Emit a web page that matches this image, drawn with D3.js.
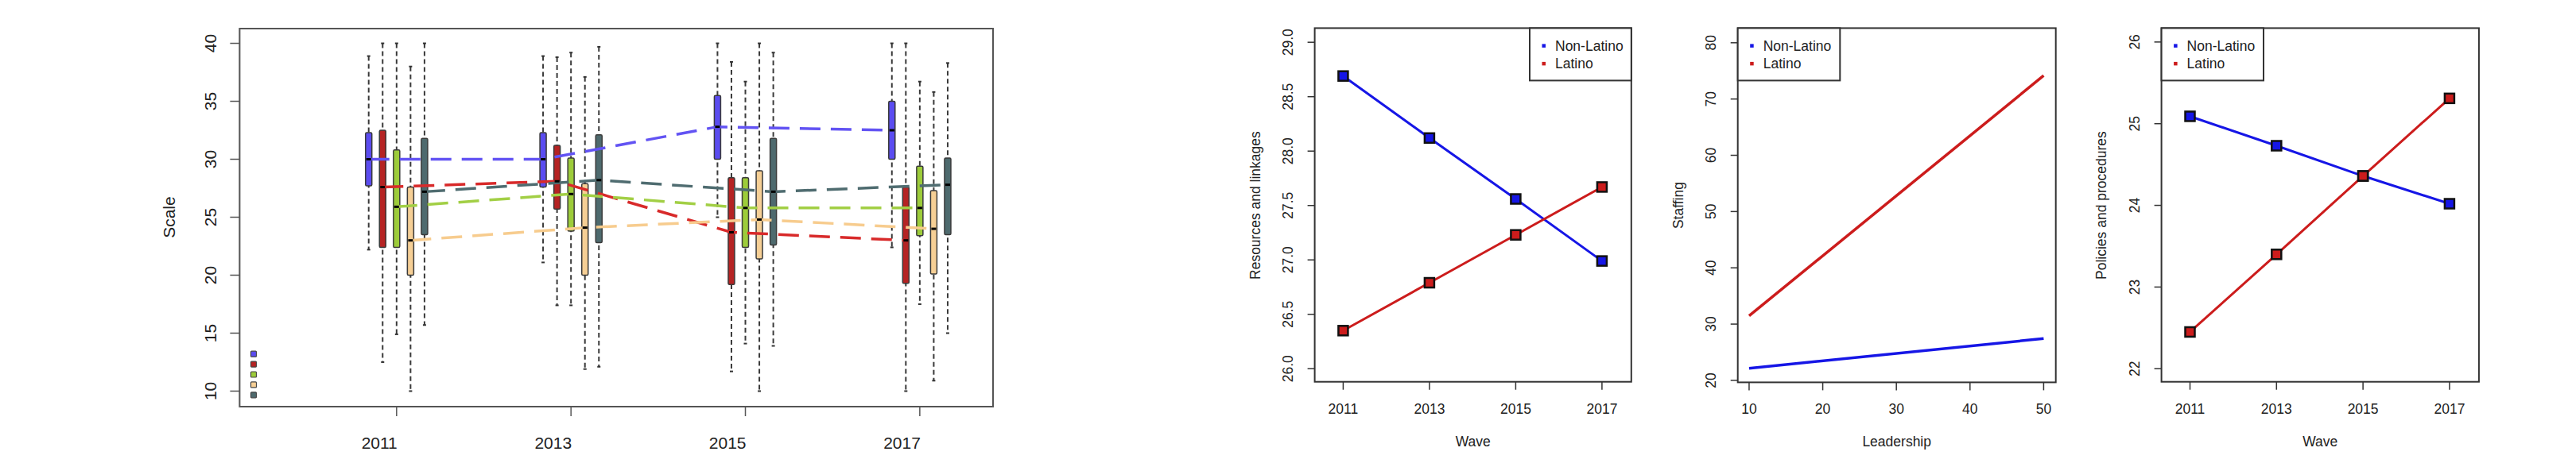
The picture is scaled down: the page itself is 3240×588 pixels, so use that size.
<!DOCTYPE html>
<html>
<head>
<meta charset="utf-8">
<script src="https://cdn.jsdelivr.net/npm/d3@7"></script>
<style>
  body { margin: 0; background: #fff; }
  text { font-family: "Liberation Sans", Arial, sans-serif; fill: #222; }
</style>
</head>
<body>
<div class="wrapper"></div>
<script>
const WIDTH = 3240
const HEIGHT = 588

// ---- data ----
var years = [2011, 2013, 2015, 2017]
var scaleTicks = [10, 15, 20, 25, 30, 35, 40]

// box stats per year: [whisker low, q1, median, q3, whisker high]
var boxBlue  = [[22.2, 27.7, 30.0, 32.3, 38.9], [21.1, 27.6, 30.0, 32.3, 38.9], [25.0, 30.0, 32.8, 35.5, 40.0], [22.4, 30.0, 32.5, 35.0, 40.0]]
var boxRed   = [[12.5, 22.4, 27.6, 32.5, 40.0], [17.4, 25.7, 28.1, 31.2, 38.8], [11.7, 19.2, 23.7, 28.4, 38.4], [10.0, 19.3, 23.0, 27.6, 40.0]]
var boxGreen = [[14.9, 22.4, 25.9, 30.8, 40.0], [17.4, 23.8, 27.0, 30.1, 39.2], [14.1, 22.4, 25.8, 28.4, 36.7], [17.5, 23.4, 25.8, 29.4, 36.7]]
var boxTan   = [[10.0, 20.0, 23.0, 27.6, 38.0], [11.9, 20.0, 24.1, 27.9, 37.1], [10.0, 21.4, 24.8, 29.0, 40.0], [10.9, 20.1, 24.0, 27.3, 35.8]]
var boxGrey  = [[15.7, 23.5, 27.2, 31.8, 40.0], [12.1, 22.8, 28.2, 32.1, 39.7], [13.9, 22.6, 27.2, 31.8, 39.2], [15.0, 23.5, 27.8, 30.1, 38.3]]
var boxGroups = [boxBlue, boxRed, boxGreen, boxTan, boxGrey]

var boxFill   = ['#5b4cf0', '#b52323', '#9dcc3a', '#f6cf95', '#4e6a6e']
var lineColor = ['#6253f3', '#d82a2a', '#a2cf45', '#f7cc8e', '#4f6c70']

var waves = [2011, 2013, 2015, 2017]
var resNonLatino = [28.69, 28.12, 27.56, 26.99]
var resLatino    = [26.35, 26.79, 27.23, 27.67]
var resTicks = [26.0, 26.5, 27.0, 27.5, 28.0, 28.5, 29.0]

var leadership = [10, 50]
var staffNonLatino = [22.15, 27.43]
var staffLatino    = [31.46, 74.16]
var staffTicks = [20, 30, 40, 50, 60, 70, 80]
var leadTicks = [10, 20, 30, 40, 50]

var polNonLatino = [25.09, 24.73, 24.36, 24.02]
var polLatino    = [22.45, 23.40, 24.36, 25.31]
var polTicks = [22, 23, 24, 25, 26]

var seriesNames = ['Non-Latino', 'Latino']
var seriesColors = ['#1616e6', '#cc1c1c']

var svg = d3.select(".wrapper")
    .append("svg")
    .attr("width", WIDTH)
    .attr("height", HEIGHT)

svg.append("rect").attr("width", WIDTH).attr("height", HEIGHT).attr("fill", "#fff")

// ================= panel 1: boxplots =================
var p1 = {left: 301.4, right: 1249, top: 36, bottom: 512}
var x1 = d3.scaleLinear([2009.2, 2017.84], [p1.left, p1.right])
var y1 = d3.scaleLinear([8.66, 41.27], [p1.bottom, p1.top])
var offset = 0.16   // years between neighbouring boxes
var boxW = 8

var g1 = svg.append("g")

// y axis
var yAx1 = g1.append("g")
yAx1.selectAll("line").data(scaleTicks).join("line")
    .attr("x1", p1.left - 12).attr("x2", p1.left)
    .attr("y1", d => y1(d)).attr("y2", d => y1(d))
    .attr("stroke", "#555").attr("stroke-width", 1.5)
yAx1.selectAll("text").data(scaleTicks).join("text")
    .attr("transform", d => `translate(${p1.left - 37},${y1(d)}) rotate(-90)`)
    .attr("text-anchor", "middle")
    .attr("dominant-baseline", "central")
    .style("font-size", "21px")
    .text(d => d)

// x axis
var xAx1 = g1.append("g")
xAx1.selectAll("line").data(years).join("line")
    .attr("x1", d => x1(d)).attr("x2", d => x1(d))
    .attr("y1", p1.bottom).attr("y2", p1.bottom + 12)
    .attr("stroke", "#555").attr("stroke-width", 1.5)
xAx1.selectAll("text").data(years).join("text")
    .attr("x", d => x1(d) + 1)
    .attr("y", p1.bottom + 53)
    .attr("text-anchor", "end")
    .style("font-size", "21px")
    .text(d => d)

g1.append("text")
    .attr("transform", `translate(212,273.6) rotate(-90)`)
    .attr("text-anchor", "middle")
    .attr("dominant-baseline", "central")
    .style("font-size", "21px")
    .text("Scale")

// flatten boxes
var boxes = []
boxGroups.forEach(function(grp, gi) {
  grp.forEach(function(s, yi) {
    boxes.push({group: gi, year: years[yi], x: x1(years[yi] + (gi - 2) * offset),
                lo: s[0], q1: s[1], med: s[2], q3: s[3], hi: s[4]})
  })
})

// whiskers
var wg = g1.append("g")
wg.selectAll("line.whisk").data(boxes).join("line")
    .attr("class", "whisk")
    .attr("x1", d => d.x).attr("x2", d => d.x)
    .attr("y1", d => y1(d.hi)).attr("y2", d => y1(d.lo))
    .attr("stroke", "#3a3a3a").attr("stroke-width", 2)
    .attr("stroke-dasharray", "6,4")
wg.selectAll("line.capHi").data(boxes).join("line")
    .attr("class", "capHi")
    .attr("x1", d => d.x - 2).attr("x2", d => d.x + 2)
    .attr("y1", d => y1(d.hi)).attr("y2", d => y1(d.hi))
    .attr("stroke", "#333").attr("stroke-width", 2)
wg.selectAll("line.capLo").data(boxes).join("line")
    .attr("class", "capLo")
    .attr("x1", d => d.x - 2).attr("x2", d => d.x + 2)
    .attr("y1", d => y1(d.lo)).attr("y2", d => y1(d.lo))
    .attr("stroke", "#333").attr("stroke-width", 2)

// boxes
g1.append("g").selectAll("rect").data(boxes).join("rect")
    .attr("x", d => d.x - boxW / 2)
    .attr("width", boxW)
    .attr("y", d => y1(d.q3))
    .attr("height", d => y1(d.q1) - y1(d.q3))
    .attr("rx", 1.5)
    .attr("fill", d => boxFill[d.group])
    .attr("stroke", "#3a3a3a").attr("stroke-width", 1.5)

// dashed median trend lines
var medLine = d3.line().x(d => d.x).y(d => y1(d.med))
g1.append("g").selectAll("path").data(d3.range(5)).join("path")
    .attr("d", gi => medLine(boxes.filter(b => b.group === gi)))
    .attr("fill", "none")
    .attr("stroke", gi => lineColor[gi])
    .attr("stroke-width", 3.5)
    .attr("stroke-dasharray", "26,13")

// medians
g1.append("g").selectAll("line").data(boxes).join("line")
    .attr("x1", d => d.x - boxW / 2 + 1).attr("x2", d => d.x + boxW / 2 - 1)
    .attr("y1", d => y1(d.med)).attr("y2", d => y1(d.med))
    .attr("stroke", "#000").attr("stroke-width", 3)

// key squares (no labels)
g1.append("g").selectAll("rect").data(boxFill).join("rect")
    .attr("x", 319 - 3.5)
    .attr("y", (d, i) => 445.7 + i * 12.9 - 3.5)
    .attr("width", 7).attr("height", 7).attr("rx", 1)
    .attr("fill", d => d)
    .attr("stroke", "#444").attr("stroke-width", 1.2)

// frame
g1.append("rect")
    .attr("x", p1.left).attr("y", p1.top)
    .attr("width", p1.right - p1.left).attr("height", p1.bottom - p1.top)
    .attr("fill", "none").attr("stroke", "#555").attr("stroke-width", 2)

// ================= panels 2-4: line charts =================
function linePanel(opt) {
  var g = svg.append("g")
  var x = d3.scaleLinear(opt.xDomain, [opt.left, opt.right])
  var y = d3.scaleLinear(opt.yDomain, [opt.bottom, opt.top])

  // y ticks
  g.selectAll("line.yt").data(opt.yTicks).join("line")
      .attr("class", "yt")
      .attr("x1", opt.left - 9).attr("x2", opt.left)
      .attr("y1", d => y(d)).attr("y2", d => y(d))
      .attr("stroke", "#333").attr("stroke-width", 1.5)
  g.selectAll("text.yt").data(opt.yTicks).join("text")
      .attr("class", "yt")
      .attr("transform", d => `translate(${opt.left - 34},${y(d)}) rotate(-90)`)
      .attr("text-anchor", "middle")
      .attr("dominant-baseline", "central")
      .style("font-size", "17.5px")
      .text(opt.yFormat)

  // x ticks
  g.selectAll("line.xt").data(opt.xTicks).join("line")
      .attr("class", "xt")
      .attr("x1", d => x(d)).attr("x2", d => x(d))
      .attr("y1", opt.bottom).attr("y2", opt.bottom + 10)
      .attr("stroke", "#333").attr("stroke-width", 1.5)
  g.selectAll("text.xt").data(opt.xTicks).join("text")
      .attr("class", "xt")
      .attr("x", d => x(d))
      .attr("y", opt.bottom + 34)
      .attr("dominant-baseline", "central")
      .attr("text-anchor", "middle")
      .style("font-size", "17.5px")
      .text(d => d)

  // axis titles
  g.append("text")
      .attr("x", (opt.left + opt.right) / 2)
      .attr("y", opt.bottom + 75)
      .attr("text-anchor", "middle")
      .attr("dominant-baseline", "central")
      .style("font-size", "17.5px")
      .text(opt.xLabel)
  g.append("text")
      .attr("transform", `translate(${opt.yLabelX},258.6) rotate(-90)`)
      .attr("text-anchor", "middle")
      .attr("dominant-baseline", "central")
      .style("font-size", "17.5px")
      .text(opt.yLabel)

  // lines
  var line = d3.line().x(d => x(d[0])).y(d => y(d[1]))
  var series = opt.series.map(s => opt.xValues.map((v, i) => [v, s[i]]))
  g.selectAll("path.series").data(series).join("path")
      .attr("class", "series")
      .attr("d", line)
      .attr("fill", "none")
      .attr("stroke", (d, i) => seriesColors[i])
      .attr("stroke-width", opt.lineWidth)

  if (opt.markers) {
    series.forEach(function(s, i) {
      g.append("g").selectAll("rect").data(s).join("rect")
          .attr("x", d => x(d[0]) - 6).attr("y", d => y(d[1]) - 6)
          .attr("width", 12).attr("height", 12)
          .attr("fill", seriesColors[i])
          .attr("stroke", "#111").attr("stroke-width", 2.5)
    })
  }

  // frame
  g.append("rect")
      .attr("x", opt.left).attr("y", opt.top)
      .attr("width", opt.right - opt.left).attr("height", opt.bottom - opt.top)
      .attr("fill", "none").attr("stroke", "#333").attr("stroke-width", 2)

  // legend
  var lg = g.append("g")
  lg.append("rect")
      .attr("x", opt.legendX0).attr("y", opt.top)
      .attr("width", opt.legendX1 - opt.legendX0).attr("height", 66)
      .attr("fill", "#fff").attr("stroke", "#333").attr("stroke-width", 2)
  lg.selectAll("rect.key").data(seriesNames).join("rect")
      .attr("class", "key")
      .attr("x", opt.legendX0 + 15.5).attr("y", (d, i) => opt.top + 20 + i * 22.5)
      .attr("width", 4.5).attr("height", 4.5)
      .attr("fill", (d, i) => seriesColors[i])
  lg.selectAll("text").data(seriesNames).join("text")
      .attr("x", opt.legendX0 + 32)
      .attr("y", (d, i) => opt.top + 22.5 + i * 22.5)
      .attr("dominant-baseline", "central")
      .style("font-size", "17.5px")
      .text(d => d)
}

linePanel({
  left: 1653.6, right: 2051.8, top: 35.4, bottom: 480.7,
  xDomain: [2010.34, 2017.68], yDomain: [25.88, 29.13],
  xTicks: waves, yTicks: resTicks, yFormat: d3.format(".1f"),
  xValues: waves, series: [resNonLatino, resLatino],
  xLabel: "Wave", yLabel: "Resources and linkages", yLabelX: 1578.6,
  lineWidth: 3, markers: true, legendX0: 1924, legendX1: 2051.8
})

linePanel({
  left: 2185.7, right: 2585.7, top: 35.4, bottom: 481.4,
  xDomain: [8.46, 51.65], yDomain: [19.65, 82.6],
  xTicks: leadTicks, yTicks: staffTicks, yFormat: d => d,
  xValues: leadership, series: [staffNonLatino, staffLatino],
  xLabel: "Leadership", yLabel: "Staffing", yLabelX: 2110.7,
  lineWidth: 3.5, markers: false, legendX0: 2185.7, legendX1: 2314.3
})

linePanel({
  left: 2718.6, right: 3117.9, top: 35.4, bottom: 480.7,
  xDomain: [2010.34, 2017.68], yDomain: [21.84, 26.17],
  xTicks: waves, yTicks: polTicks, yFormat: d => d,
  xValues: waves, series: [polNonLatino, polLatino],
  xLabel: "Wave", yLabel: "Policies and procedures", yLabelX: 2642.9,
  lineWidth: 3, markers: true, legendX0: 2718.6, legendX1: 2847
})
</script>
</body>
</html>
